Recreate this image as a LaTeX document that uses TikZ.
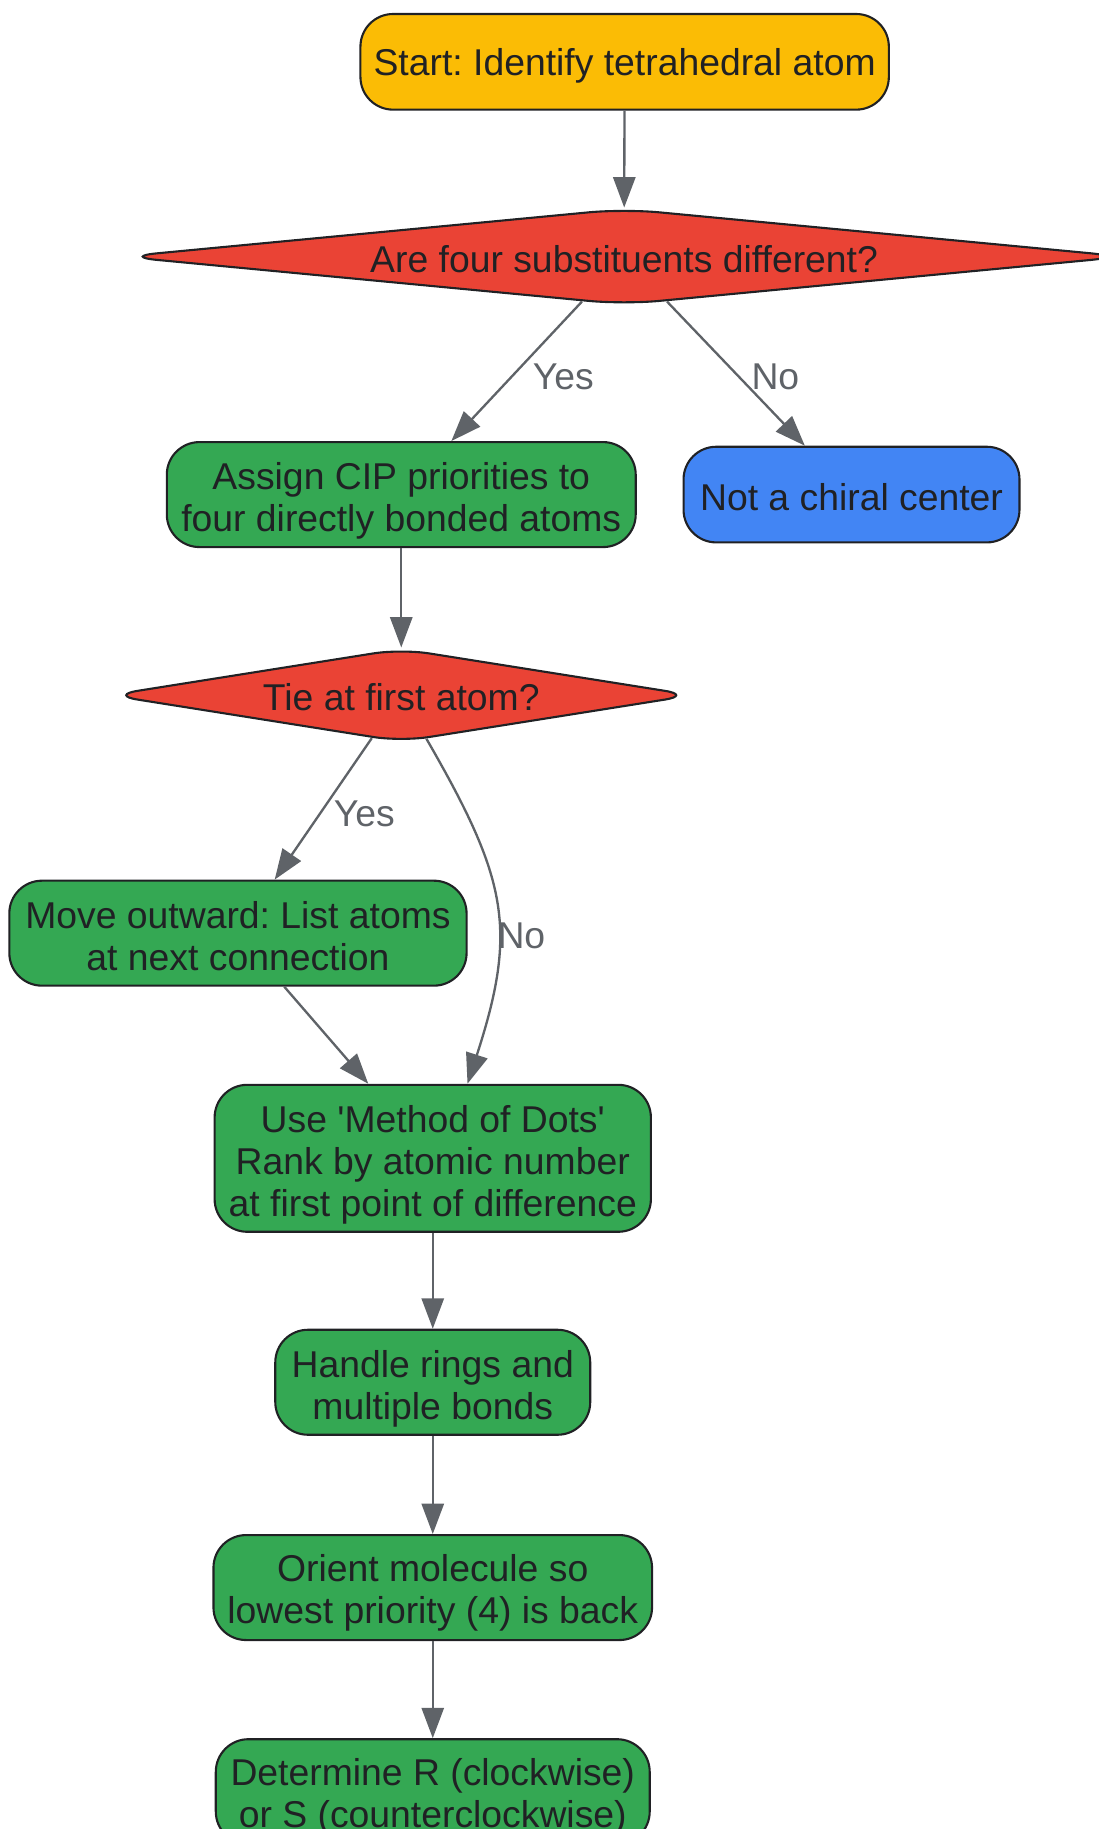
\documentclass[tikz,border=0pt]{standalone}
\usepackage{fontspec}
\setmainfont{Liberation Sans}[Ligatures=TeXOff]
\usetikzlibrary{shapes.geometric,arrows.meta}
\definecolor{startyellow}{HTML}{FBBC05}
\definecolor{askred}{HTML}{EA4335}
\definecolor{stepgreen}{HTML}{34A853}
\definecolor{endblue}{HTML}{4285F4}
\definecolor{inkdark}{HTML}{202124}
\definecolor{linegray}{HTML}{5F6368}
\newcommand{\dropline}[1]{\rule{0pt}{#1}} % pushes the text a little lower in its box
\frenchspacing
\tikzset{ % Common looks for the flowchart
	box/.style={
		draw=inkdark, line width=0.9pt, % Outline of every shape
		rounded corners=14pt,
		text=inkdark, align=center, inner sep=0pt,
		font=\fontsize{16}{18}\selectfont
	},
	stepbox/.style={box, fill=stepgreen, minimum height=45pt},
	question/.style={box, diamond, fill=askred},
	flow/.style={
		draw=linegray, line width=1pt,
		-{Triangle[length=13pt,width=9.5pt]} % Arrow tip
	},
	answer/.style={
		text=linegray, inner sep=0pt,
		font=\fontsize{16}{18}\selectfont
	}
}

\begin{document}
\begin{tikzpicture}[x=0.5pt,y=-0.5pt]
	\useasboundingbox (0,0) rectangle (942,1568);
	% Nodes
	\node [box, fill=startyellow, minimum width=226.5pt, minimum height=41pt] (start) at (535.5,53) {\dropline{14.7pt}Start: Identify tetrahedral atom};
	\node [question, aspect=12, rounded corners=15pt, minimum width=430.5pt, minimum height=41.2pt] (different) at (535,220) {\dropline{13.8pt}Are four substituents different?};
	\node [stepbox, minimum width=201pt] (assign) at (344,424) {\dropline{16.7pt}Assign CIP priorities to\\four directly bonded atoms};
	\node [box, fill=endblue, minimum width=144pt, minimum height=41pt] (notchiral) at (730,424) {\dropline{14.2pt}Not a chiral center};
	\node [question, aspect=7, rounded corners=12pt, minimum width=250pt, minimum height=40pt] (tie) at (344,596) {\dropline{13.5pt}Tie at first atom?};
	\node [stepbox, minimum width=196pt] (outward) at (204,800) {\dropline{14.2pt}Move outward: List atoms\\at next connection};
	\node [stepbox, minimum width=187pt, minimum height=63pt] (dots) at (371,993) {\dropline{17.2pt}Use 'Method of Dots'\\Rank by atomic number\\at first point of difference};
	\node [stepbox, minimum width=135pt] (rings) at (371,1185) {\dropline{17.2pt}Handle rings and\\multiple bonds};
	\node [stepbox, minimum width=188pt] (orient) at (371,1361) {\dropline{15.7pt}Orient molecule so\\lowest priority (4) is back};
	\node [stepbox, minimum width=186pt] (decide) at (371,1536) {\dropline{15.7pt}Determine R (clockwise)\\or S (counterclockwise)};
	% Connectors
	\draw [flow] (start) -- (different);
	\draw [flow] (different) -- node [answer, pos=0.536, right=8.5pt] {Yes} (assign);
	\draw [flow] (different) -- node [answer, pos=0.52, right=5pt] {No} (notchiral);
	\draw [flow] (assign) -- (tie);
	\draw [flow] (tie) -- node [answer, pos=0.535, right=5.5pt] {Yes} (outward);
	\draw [flow] (tie.-60) to [out=-60, in=72, looseness=1.2] node [answer, pos=0.6, right=-0.8pt] {No} (dots.65);
	\draw [flow] (outward) -- (dots);
	\draw [flow] (dots) -- (rings);
	\draw [flow] (rings) -- (orient);
	\draw [flow] (orient) -- (decide);
\end{tikzpicture}
\end{document}
